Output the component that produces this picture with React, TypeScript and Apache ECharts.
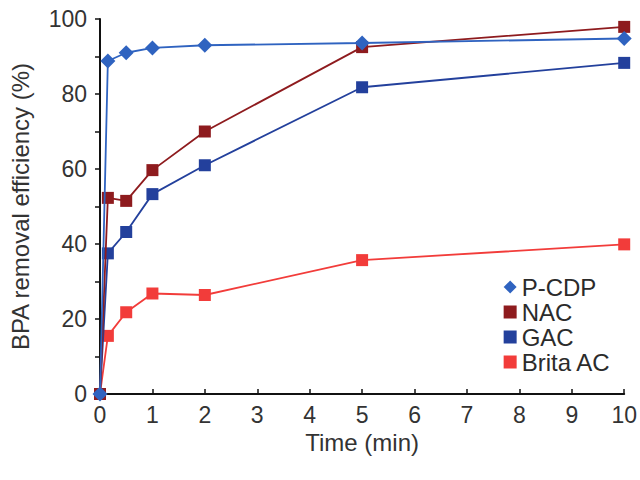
import React, { useEffect, useRef } from "react";
import * as echarts from "echarts";

const times = [0, 0.15, 0.5, 1, 2, 5, 10];
const pcdp = [0, 88.8, 91.0, 92.3, 93.0, 93.6, 94.8];
const nac = [0, 52.3, 51.5, 59.7, 70.0, 92.5, 97.9];
const gac = [0, 37.5, 43.2, 53.3, 61.0, 81.8, 88.3];
const brita = [0, 15.5, 21.8, 26.8, 26.4, 35.7, 39.9];

const seriesNames = ["P-CDP", "NAC", "GAC", "Brita AC"];
const seriesColors = ["#2f63c0", "#8e1b1e", "#23409c", "#f23c3a"];
const seriesSymbols = ["diamond", "rect", "rect", "rect"];
const seriesData = [pcdp, nac, gac, brita];

export default function App() {
  const ref = useRef<HTMLDivElement>(null);
  useEffect(() => {
    if (!ref.current) return;
    const chart = echarts.init(ref.current, undefined, { renderer: "svg" });
    const font = "Liberation Sans, Arial, sans-serif";
    chart.setOption({
      animation: false,
      backgroundColor: "#ffffff",
      grid: { left: 97, right: 14, top: 19, bottom: 86, containLabel: false },
      legend: {
        orient: "vertical",
        right: 24,
        top: 270,
        itemWidth: 13,
        itemHeight: 13,
        itemGap: 1,
        textStyle: { fontFamily: font, fontSize: 24, lineHeight: 24, color: "#2b2b2b" },
        data: seriesNames.map((n, i) => ({ name: n, icon: seriesSymbols[i] })),
      },
      xAxis: {
        type: "value",
        min: 0,
        max: 10,
        interval: 1,
        name: "Time (min)",
        nameLocation: "middle",
        nameGap: 24,
        nameTextStyle: { fontFamily: font, fontSize: 24, color: "#333" },
        axisLine: { lineStyle: { color: "#111", width: 2 } },
        axisTick: { inside: true, length: 5, lineStyle: { color: "#111", width: 1.5 } },
        axisLabel: { fontFamily: font, fontSize: 23, color: "#333", margin: 9 },
        splitLine: { show: false },
      },
      yAxis: {
        type: "value",
        min: 0,
        max: 100,
        interval: 20,
        name: "BPA removal efficiency (%)",
        nameLocation: "middle",
        nameGap: 68,
        nameTextStyle: { fontFamily: font, fontSize: 24, color: "#333" },
        axisLine: { lineStyle: { color: "#111", width: 2 } },
        axisTick: { length: 5, lineStyle: { color: "#111", width: 1.5 } },
        minorTick: { show: true, splitNumber: 2, length: 5, lineStyle: { color: "#111", width: 1.5 } },
        axisLabel: { fontFamily: font, fontSize: 23, color: "#333", margin: 13 },
        splitLine: { show: false },
      },
      series: seriesNames.map((n, i) => ({
        name: n,
        type: "line",
        data: times.map((t, j) => [t, seriesData[i][j]]),
        symbol: seriesSymbols[i],
        symbolSize: seriesSymbols[i] === "diamond" ? 15 : 12,
        color: seriesColors[i],
        lineStyle: { color: seriesColors[i], width: 1.8 },
        itemStyle: { color: seriesColors[i] },
        z: 10 - i,
      })),
    });
    return () => chart.dispose();
  }, []);
  return <div ref={ref} style={{ width: 640, height: 480, position: "absolute", left: 0, top: 0 }} />;
}
